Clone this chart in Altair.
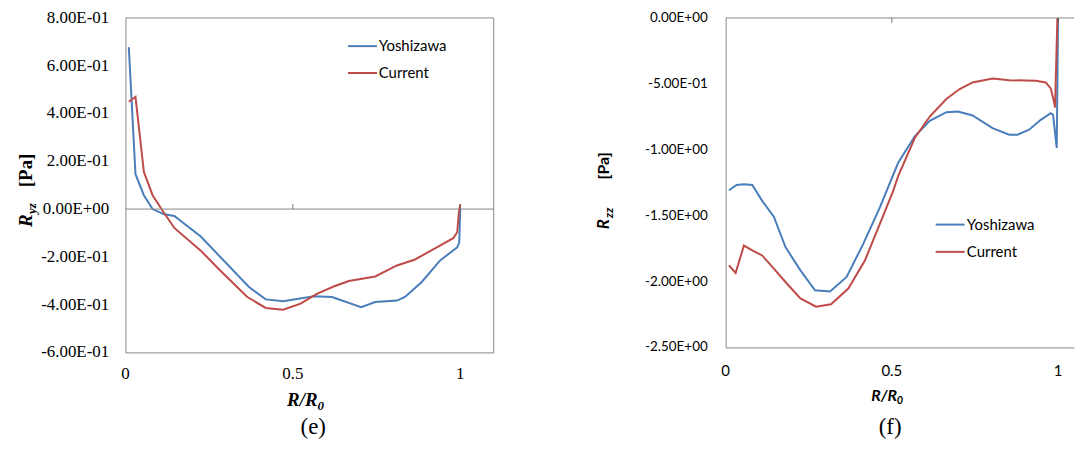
import altair as alt
import pandas as pd

SERIF = "Liberation Serif"
SANS = "Lato"
GRAY = "#868686"
TICKC = "#444444"

series_names = ["Yoshizawa", "Current"]
series_colors = ["#4A7EBB", "#BE4B48"]

# ---------------- panel (e): R_yz ----------------
e_yosh_x = [0.010, 0.030, 0.055, 0.081, 0.116, 0.146, 0.225, 0.369, 0.419, 0.471, 0.563, 0.617,
            0.704, 0.746, 0.811, 0.835, 0.885, 0.940, 0.991, 0.997, 1.000]
e_yosh_y = [0.678, 0.146, 0.058, 0.000, -0.022, -0.029, -0.115, -0.326, -0.378, -0.386, -0.365, -0.368,
            -0.411, -0.389, -0.383, -0.368, -0.305, -0.215, -0.160, -0.139, 0.000]
e_cur_x = [0.010, 0.030, 0.055, 0.081, 0.111, 0.146, 0.225, 0.280, 0.364, 0.419, 0.471, 0.523,
           0.573, 0.622, 0.667, 0.746, 0.811, 0.865, 0.930, 0.979, 0.991, 0.996, 1.000]
e_cur_y = [0.449, 0.470, 0.156, 0.058, -0.007, -0.079, -0.174, -0.253, -0.368, -0.414, -0.421, -0.396,
           -0.354, -0.324, -0.301, -0.282, -0.236, -0.211, -0.160, -0.122, -0.097, -0.014, 0.020]
e_y_ticks = [-0.6, -0.4, -0.2, 0.0, 0.2, 0.4, 0.6, 0.8]
e_y_labels = ["-6.00E-01", "-4.00E-01", "-2.00E-01", "0.00E+00", "2.00E-01", "4.00E-01", "6.00E-01", "8.00E-01"]
e_x_ticks = [0, 0.5, 1]
e_x_labels = ["0", "0.5", "1"]
e_marks = [0.5, 1.0]

# ---------------- panel (f): R_zz ----------------
f_yosh_x = [0.010, 0.033, 0.055, 0.080, 0.110, 0.145, 0.180, 0.225, 0.269, 0.314, 0.364, 0.414,
            0.464, 0.519, 0.569, 0.614, 0.664, 0.699, 0.743, 0.803, 0.853, 0.878, 0.913, 0.948,
            0.978, 0.985, 0.996, 1.000]
f_yosh_y = [-1.307, -1.267, -1.262, -1.267, -1.388, -1.508, -1.739, -1.915, -2.066, -2.076, -1.965, -1.714,
            -1.438, -1.099, -0.898, -0.780, -0.715, -0.710, -0.740, -0.836, -0.886, -0.886, -0.848, -0.773,
            -0.723, -0.735, -0.986, 0.000]
f_cur_x = [0.010, 0.030, 0.055, 0.080, 0.110, 0.145, 0.184, 0.225, 0.272, 0.317, 0.369, 0.419,
           0.464, 0.504, 0.519, 0.569, 0.614, 0.664, 0.704, 0.743, 0.803, 0.853, 0.933, 0.963,
           0.978, 0.988, 0.991, 0.998]
f_cur_y = [-1.877, -1.935, -1.727, -1.764, -1.802, -1.902, -2.015, -2.128, -2.191, -2.173, -2.053, -1.840,
           -1.563, -1.312, -1.200, -0.911, -0.748, -0.615, -0.539, -0.489, -0.459, -0.472, -0.477, -0.489,
           -0.534, -0.635, -0.680, 0.000]
f_y_ticks = [-2.5, -2.0, -1.5, -1.0, -0.5, 0.0]
f_y_labels = ["-2.50E+00", "-2.00E+00", "-1.50E+00", "-1.00E+00", "-5.00E-01", "0.00E+00"]
f_x_ticks = [0, 0.5, 1]
f_x_labels = ["0", "0.5", "1"]
f_marks = [0.5, 1.0]

one = pd.DataFrame({"k": [0]})
color_scale = alt.Scale(domain=series_names, range=series_colors)


def lines_df(xa, ya, xb, yb):
    a = pd.DataFrame({"x": xa, "y": ya, "series": series_names[0], "i": range(len(xa))})
    b = pd.DataFrame({"x": xb, "y": yb, "series": series_names[1], "i": range(len(xb))})
    return pd.concat([a, b], ignore_index=True)


def txt(s, x, y, size, font, weight="normal", style="normal", angle=0, align="left",
        baseline="alphabetic", color="black"):
    return alt.Chart(one).mark_text(
        text=s, font=font, fontSize=size, fontWeight=weight, fontStyle=style,
        angle=angle, align=align, baseline=baseline, color=color
    ).encode(x=alt.value(x), y=alt.value(y))


def legend(x0, x1, ys, tx, size):
    layers = []
    for name, col, yy in zip(series_names, series_colors, ys):
        layers.append(alt.Chart(one).mark_rule(color=col, strokeWidth=2).encode(
            x=alt.value(x0), x2=alt.value(x1), y=alt.value(yy)))
        layers.append(txt(name, tx, yy, size, SANS, baseline="middle"))
    return layers


def make_panel(df, x_scale, y_scale, x_ticks, x_labels, y_ticks, y_labels, marks, tick_off,
               label_font, ylab_size, xlab_size, ylab_x, xlab_y, borders, extra):
    XAX = alt.Axis(labels=False, ticks=False, domain=True, domainColor=GRAY, grid=False, title=None)
    YAX = alt.Axis(labels=False, ticks=False, domain=True, domainColor=GRAY, grid=False, title=None)

    def X(f="x"):
        return alt.X(f"{f}:Q", scale=x_scale, axis=XAX, title=None)

    def Y(f="y"):
        return alt.Y(f"{f}:Q", scale=y_scale, axis=YAX, title=None)

    lines = alt.Chart(df).mark_line(strokeWidth=2).encode(
        x=X(), y=Y(),
        color=alt.Color("series:N", scale=color_scale, legend=None),
        order="i:Q",
    )
    layers = [lines]
    for ch, val in borders:
        if ch == "y":
            layers.append(alt.Chart(pd.DataFrame({"y": [val]})).mark_rule(
                color=GRAY, strokeWidth=1).encode(y=Y()))
        else:
            layers.append(alt.Chart(pd.DataFrame({"x": [val]})).mark_rule(
                color=GRAY, strokeWidth=1).encode(x=X()))
    layers.append(alt.Chart(pd.DataFrame({"x": marks, "y": [0.0] * len(marks)})).mark_tick(
        orient="vertical", size=5, thickness=1, color=TICKC, yOffset=tick_off
    ).encode(x=X(), y=Y()))
    layers.append(alt.Chart(pd.DataFrame({"y": y_ticks, "lab": y_labels})).mark_text(
        font=label_font, fontSize=ylab_size, align="right", baseline="middle", color="black"
    ).encode(y=Y(), x=alt.value(ylab_x), text="lab:N"))
    layers.append(alt.Chart(pd.DataFrame({"x": x_ticks, "lab": x_labels})).mark_text(
        font=label_font, fontSize=xlab_size, align="center", baseline="middle", color="black"
    ).encode(x=X(), y=alt.value(xlab_y), text="lab:N"))
    return alt.layer(*layers, *extra)


# ---- panel (e)
e_df = lines_df(e_yosh_x, e_yosh_y, e_cur_x, e_cur_y)
ex_scale = alt.Scale(domain=[0, 1.1], nice=False, zero=False)
ey_scale = alt.Scale(domain=[-0.6, 0.8], nice=False, zero=False)
e_text = [
    txt("R", -94, 210, 19, SERIF, "bold", "italic", angle=270),
    txt("yz", -90, 197, 13, SERIF, "bold", "italic", angle=270),
    txt("[Pa]", -94, 170, 19, SERIF, "bold", angle=270),
    txt("R/R", 162.4, 390.3, 19, SERIF, "bold", "italic"),
    txt("0", 193.0, 394.3, 13, SERIF, "bold", "italic"),
    txt("(e)", 188.7, 418, 23, SERIF, align="center"),
]
e_chart = make_panel(
    e_df, ex_scale, ey_scale, e_x_ticks, e_x_labels, e_y_ticks, e_y_labels, e_marks, -2.5,
    SERIF, 17, 17, -16.3, 357.3, [("y", 0.0), ("y", 0.8), ("x", 1.1)],
    legend(223.7, 252.7, [28.3, 55.3], 254.5, 15) + e_text,
).properties(width=370, height=336)

# ---- panel (f): plot runs to the window edge, as in the reference
f_df = lines_df(f_yosh_x, f_yosh_y, f_cur_x, f_cur_y)
fx_scale = alt.Scale(domain=[0, 1.048], nice=False, zero=False)
fy_scale = alt.Scale(domain=[-2.5, 0], nice=False, zero=False)
f_text = [
    txt("R", -116.7, 212.3, 17, SANS, "bold", "italic", angle=270),
    txt("zz", -113.0, 201.0, 12, SANS, "bold", "italic", angle=270),
    txt("[Pa]", -116.7, 162.3, 16, SANS, "bold", angle=270),
    txt("R/R", 146.3, 385.3, 16, SANS, "bold", "italic"),
    txt("0", 172.0, 388.3, 11, SANS, "bold", "italic"),
    txt("(f)", 165.3, 417.5, 23, SERIF, align="center"),
]
f_chart = make_panel(
    f_df, fx_scale, fy_scale, f_x_ticks, f_x_labels, f_y_ticks, f_y_labels, f_marks, 2.5,
    SANS, 13.5, 15, -18, 355, [("y", 0.0)],
    legend(211, 240, [207.6, 235], 242.3, 15) + f_text,
).properties(width=350, height=331)

chart = alt.hconcat(e_chart, f_chart, spacing=100).properties(
    padding={"left": 8, "top": -1, "right": 0, "bottom": 0}
).configure_view(stroke="transparent")

chart.save("out.html", embed_options={"renderer": "svg", "actions": False})
